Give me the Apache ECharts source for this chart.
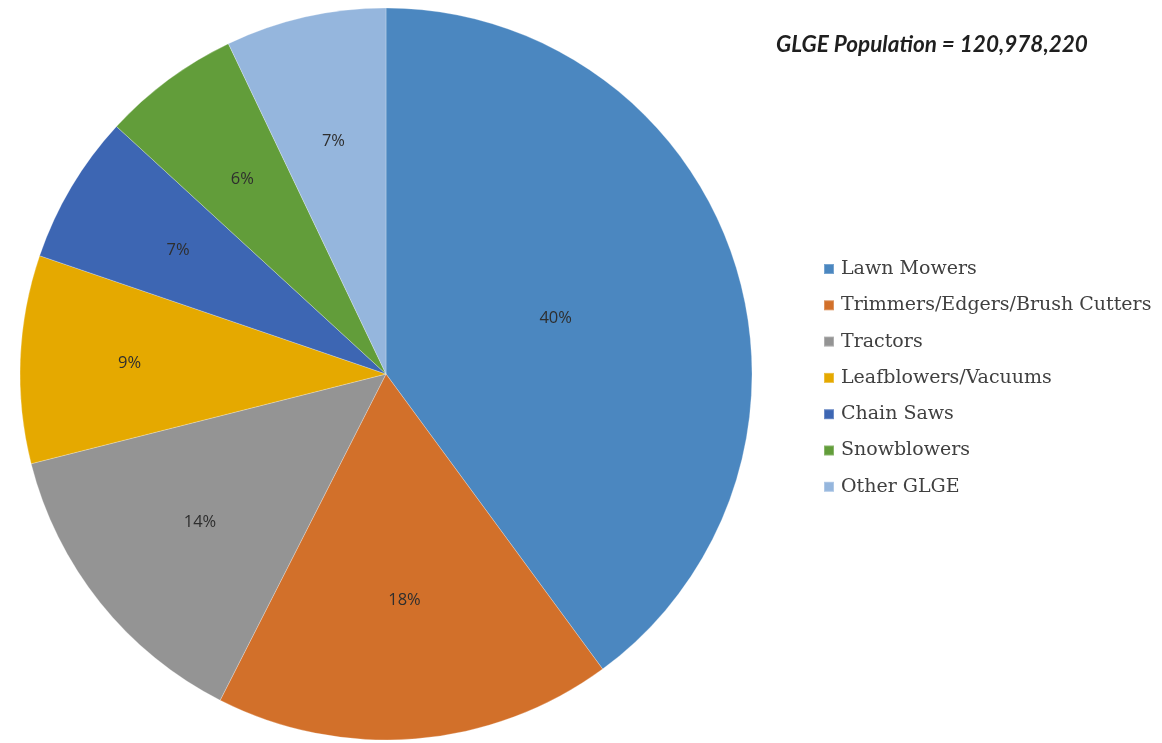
<!DOCTYPE html>
<html>
<head>
<meta charset="utf-8">
<script src="https://cdn.jsdelivr.net/npm/echarts@6/dist/echarts.min.js"></script>
<style>
html,body{margin:0;padding:0;background:#fff;}
#chart{width:1162px;height:743px;}
</style>
</head>
<body>
<div id="chart"></div>
<script>
var categories = ['Lawn Mowers','Trimmers/Edgers/Brush Cutters','Tractors','Leafblowers/Vacuums','Chain Saws','Snowblowers','Other GLGE'];
var shares = [40, 17.6, 13.6, 9.2, 6.6, 6.1, 7.1];
var colors = ['#4B87C0','#D2702A','#949494','#E5A900','#3D66B3','#629D3A','#95B6DD'];
var titleText = 'GLGE Population = 120,978,220';

var CX = 386, CY = 374, R = 366;
var labelScale = [0.96, 1.22, 1.28, 1.38, 1.3, 1.3, 1.28];

var chart = echarts.init(document.getElementById('chart'), null, {renderer:'canvas'});
chart.setOption({
  backgroundColor:'#ffffff',
  animation:false,
  title:{
    text:titleText,
    left:771, top:28,
    textStyle:{fontFamily:'Lato', fontStyle:'italic', fontWeight:'bold', fontSize:22.5, color:'#1f1f1f'}
  },
  legend:{
    orient:'vertical',
    left:818, top:253,
    itemWidth:10, itemHeight:10,
    itemGap:14.3,
    icon:'rect',
    data:categories,
    textStyle:{fontFamily:'DejaVu Serif', fontSize:19, color:'#404040', lineHeight:22, padding:[0,0,0,2]}
  },
  series:[{
    type:'pie',
    center:[CX, CY],
    radius:[0, R],
    startAngle:90,
    clockwise:true,
    avoidLabelOverlap:false,
    itemStyle:{borderColor:'rgba(255,255,255,0.25)', borderWidth:1},
    label:{
      show:true,
      position:'inside',
      fontFamily:'Open Sans',
      fontSize:16.5,
      color:'#2e2e2e',
      formatter:function(p){ return Math.round(p.percent) + '%'; }
    },
    labelLayout:function(p){
      var r = p.labelRect;
      var lx = r.x + r.width/2, ly = r.y + r.height/2;
      var k = labelScale[p.dataIndex];
      return {x: CX + (lx - CX)*k, y: CY + (ly - CY)*k, align:'center', verticalAlign:'middle'};
    },
    labelLine:{show:false},
    emphasis:{disabled:true},
    data:categories.map(function(c,i){ return {name:c, value:shares[i], itemStyle:{color:colors[i]}}; })
  }]
});
</script>
</body>
</html>
